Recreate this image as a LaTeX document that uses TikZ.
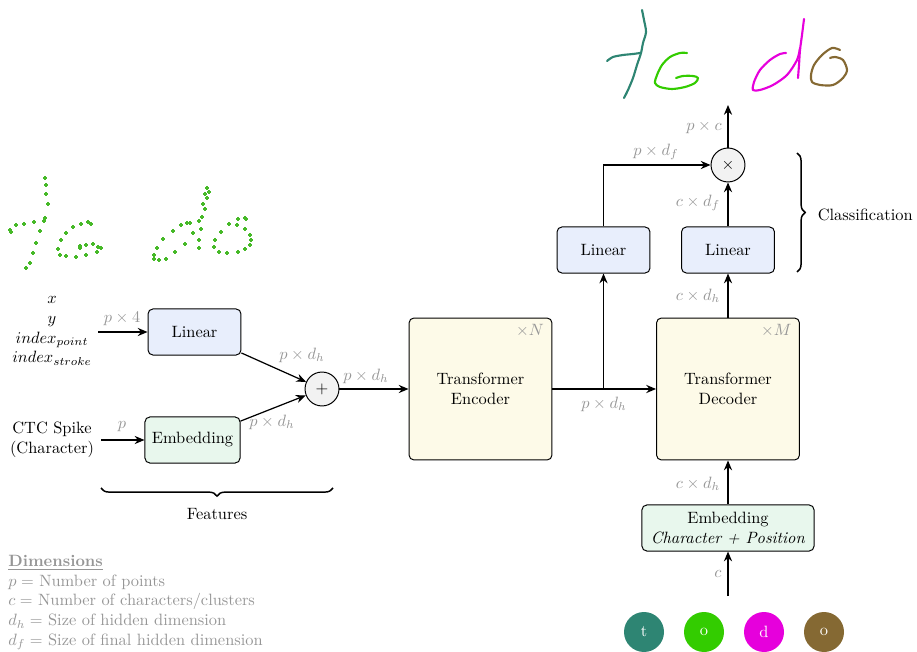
\documentclass[tikz,border=0pt]{standalone}
\usetikzlibrary{arrows.meta,decorations.pathreplacing,calc}
\definecolor{linfill}{RGB}{232,238,252}
\definecolor{embfill}{RGB}{232,247,237}
\definecolor{trfill}{RGB}{253,250,232}
\definecolor{opfill}{RGB}{242,242,242}
\definecolor{lblgray}{RGB}{150,150,150}
\definecolor{cT}{RGB}{46,133,115}
\definecolor{cO}{RGB}{51,204,0}
\definecolor{cD}{RGB}{230,0,220}
\definecolor{cB}{RGB}{133,105,51}
\definecolor{dotc}{RGB}{70,185,40}
\begin{document}
\begin{tikzpicture}[x=0.61pt,y=-0.61pt,
  box/.style={draw, rounded corners=3pt, line width=0.6pt, align=center, inner sep=0pt},
  linbox/.style={box, fill=linfill, minimum width=56.7pt, minimum height=28.1pt},
  embbox/.style={box, fill=embfill, minimum width=58pt, minimum height=28.1pt},
  trbox/.style={box, fill=trfill, minimum width=87.2pt, minimum height=86.6pt},
  opnode/.style={draw, circle, fill=opfill, line width=0.6pt, minimum size=20.7pt, inner sep=0pt},
  letnode/.style={circle, minimum size=24.4pt, inner sep=0pt, text=white},
  arr/.style={-{Stealth[length=6pt,width=5pt,inset=2pt]}, line width=0.75pt},
  lbl/.style={text=lblgray, inner sep=1pt},
  hw/.style={line width=1.3pt, line cap=round, line join=round},
  brc/.style={decorate, decoration={brace, amplitude=5pt}, line width=0.9pt}
]
\useasboundingbox (0,0) rectangle (917,652);

% ---- nodes
\node[linbox] (lin1) at (194.5,332) {Linear};
\node[embbox] (emb1) at (192.5,440) {Embedding};
\node[opnode] (plus) at (322,389) {$+$};
\node[trbox] (enc) at (480.5,389) {Transformer\\Encoder};
\node[trbox] (dec) at (728,389) {Transformer\\Decoder};
\node[linbox] (linL) at (603.5,250) {Linear};
\node[linbox] (linR) at (728,250) {Linear};
\node[opnode] (times) at (728,165) {$\times$};
\node[embbox, minimum width=105pt] (emb2) at (728,528) {Embedding\\\textit{Character + Position}};

\node[lbl, anchor=north east] at ($(enc.north east)+(-4pt,-3pt)$) {$\times N$};
\node[lbl, anchor=north east] at ($(dec.north east)+(-4pt,-3pt)$) {$\times M$};

% inputs
\node[align=center, inner sep=0pt] (inp) at (52,331) {$x$\\$y$\\$index_{point}$\\$index_{stroke}$};
\node[align=center, inner sep=0pt] (ctc) at (52,440) {CTC Spike\\(Character)};
\coordinate (inA) at (98,332);
\coordinate (inB) at (101,440);

% letter circles
\node[letnode, fill=cT] (l1) at (644,632) {t};
\node[letnode, fill=cO] (l2) at (704,632) {o};
\node[letnode, fill=cD] (l3) at (764,632) {d};
\node[letnode, fill=cB] (l4) at (824,632) {o};

\coordinate (cin) at (728,596);
\coordinate (cout) at (728,105);
\coordinate (br) at (603.5,389);

% ---- connectors
\draw[arr] (inA) -- (lin1.west);
\node[lbl] at (122,319) {$p\times 4$};
\draw[arr] (inB) -- (emb1.west);
\node[lbl] at (122,427) {$p$};
\draw[arr] (lin1) -- (plus);
\node[lbl] at (302,355) {$p\times d_h$};
\draw[arr] (emb1) -- (plus);
\node[lbl] at (272,422) {$p\times d_h$};
\draw[arr] (plus) -- (enc.west);
\node[lbl] at (366,376) {$p\times d_h$};
\draw[arr] (enc.east) -- (dec.west);
\node[lbl] at (604,404) {$p\times d_h$};
\draw[arr] (br) -- (linL.south);
\draw[arr] (linL.north) |- (times.west);
\node[lbl] at (656,152) {$p\times d_f$};
\draw[arr] (dec.north) -- (linR.south);
\node[lbl] at (698,296) {$c\times d_h$};
\draw[arr] (linR.north) -- (times.south);
\node[lbl] at (698,203) {$c\times d_f$};
\draw[arr] (times.north) -- (cout);
\node[lbl] at (704,127) {$p\times c$};
\draw[arr] (emb2.north) -- (dec.south);
\node[lbl] at (698,484) {$c\times d_h$};
\draw[arr] (cin) -- (emb2.south);
\node[lbl] at (718,574) {$c$};

% braces
\draw[brc] (333,488) -- (101,488);
\node (feat) at (217,514) {Features};
\draw[brc] (797,153) -- (797,272);
\node[anchor=west] (cls) at (812,215) {Classification};

% legend
\node[anchor=north west, align=left, text=lblgray, inner sep=0pt] (leg) at (8,555)
  {\underline{\textbf{Dimensions}}\\
   $p=$ Number of points\\
   $c=$ Number of characters/clusters\\
   $d_h=$ Size of hidden dimension\\
   $d_f=$ Size of final hidden dimension};

% ---- handwriting (top)
\draw[hw, cT] plot[smooth] coordinates {(642,10) (644,20) (646,32) (643,43) (641,53) (637,65) (633,78) (628,90) (624,98)};
\draw[hw, cT] plot[smooth] coordinates {(607,61) (613,57) (623,55) (633,54) (640,53)};
\draw[hw, cO] plot[smooth] coordinates {(687,53) (680,53) (670,57) (662,65) (657,75) (655,83) (660,87) (672,89) (685,87) (695,83) (698,78) (693,76) (683,76) (676,78)};
\draw[hw, cD] plot[smooth] coordinates {(804,19) (802,35) (800,50) (799,65) (798,78)};
\draw[hw, cD] plot[smooth] coordinates {(786,53) (780,54) (770,60) (760,70) (754,82) (753,90) (760,90) (773,85) (787,75) (797,60) (800,48)};
\draw[hw, cB] plot[smooth] coordinates {(840,50) (832,48) (822,55) (814,65) (811,75) (812,82) (820,85) (833,85) (843,78) (847,70) (843,60) (835,57) (830,58)};

% ---- point clouds (left)
\foreach \px/\py in {45/178,46/185,46/194,48/204,45/218,44/221,34/222,24/224,16/225,10/230,11/232,40/231,36/243,33/253,30/263,26/268,
  88/222,91/224,81/224,73/227,66/233,61/240,58/249,60/255,66/256,76/257,86/255,97/252,101/248,98/247,93/244,86/245,80/246,80/248,
  207/188,209/192,207/198,205/194,203/204,205/209,202/217,199/221,190/223,187/223,181/225,173/231,163/239,157/248,154/255,154/259,159/260,166/259,175/252,185/244,193/233,201/229,199/240,199/248,
  245/218,246/219,238/219,229/224,221/232,215/240,214/247,219/252,227/253,238/252,245/249,250/245,251/240,250/235,245/229,237/225}
  {\draw[dotc, line width=1.1pt] (\px-2,\py) -- (\px+2,\py) (\px,\py-2) -- (\px,\py+2);}
\end{tikzpicture}
\end{document}
